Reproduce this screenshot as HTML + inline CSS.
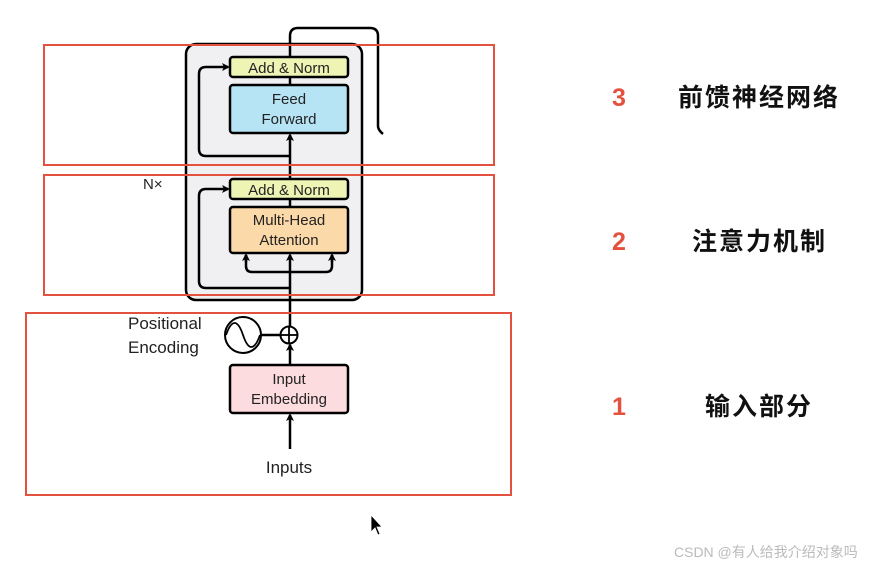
<!DOCTYPE html>
<html><head><meta charset="utf-8"><style>
html,body{margin:0;padding:0;background:#fff;}
svg{display:block;}
.t{font-family:"Liberation Sans",sans-serif;fill:#222;}
.c{font-family:"Liberation Sans","Noto Sans CJK SC",sans-serif;font-weight:bold;fill:#111;font-size:25px;}
.n{font-family:"Liberation Sans",sans-serif;font-weight:bold;fill:#e4513f;font-size:25px;}
</style></head><body>
<svg width="893" height="567" viewBox="0 0 893 567" xmlns="http://www.w3.org/2000/svg">
<defs><marker id="a" markerWidth="8" markerHeight="8" refX="6" refY="4" orient="auto" markerUnits="userSpaceOnUse"><path d="M0,0 L8,4 L0,8 L2,4z" fill="#000"/></marker></defs>
<!-- gray box -->
<rect x="186" y="44" width="176" height="256" rx="10" fill="#f0f0f2" stroke="#000" stroke-width="2.5"/>
<!-- main vertical line -->
<line x1="290" y1="449" x2="290" y2="415" stroke="#000" stroke-width="2.5" marker-end="url(#a)"/>
<line x1="290" y1="365" x2="290" y2="345" stroke="#000" stroke-width="2.5" marker-end="url(#a)"/>
<line x1="290" y1="327" x2="290" y2="255" stroke="#000" stroke-width="2.5" marker-end="url(#a)"/>
<line x1="290" y1="207" x2="290" y2="199" stroke="#000" stroke-width="2.5"/>
<line x1="290" y1="179" x2="290" y2="135" stroke="#000" stroke-width="2.5" marker-end="url(#a)"/>
<line x1="290" y1="85" x2="290" y2="77" stroke="#000" stroke-width="2.5"/>
<path d="M290,57 L290,36 Q290,28 298,28 L370,28 Q378,28 378,36 L378,126 Q378,130 383,134" fill="none" stroke="#000" stroke-width="2.5"/>
<!-- residual loops -->
<path d="M290,288 L206,288 Q199,288 199,281 L199,196 Q199,189 206,189 L228,189" fill="none" stroke="#000" stroke-width="2.5" marker-end="url(#a)"/>
<path d="M290,156 L206,156 Q199,156 199,149 L199,74 Q199,67 206,67 L228,67" fill="none" stroke="#000" stroke-width="2.5" marker-end="url(#a)"/>
<!-- MHA branches -->
<path d="M246,255 L246,266 Q246,272 252,272 L326,272 Q332,272 332,266 L332,255" fill="none" stroke="#000" stroke-width="2.5"/>
<path d="M246,262 L246,255" stroke="#000" stroke-width="2.5" marker-end="url(#a)"/>
<path d="M332,262 L332,255" stroke="#000" stroke-width="2.5" marker-end="url(#a)"/>
<!-- boxes -->
<rect x="230" y="57" width="118" height="20" rx="3" fill="#eef4b4" stroke="#000" stroke-width="2.5"/>
<text class="t" x="289" y="73" font-size="15" text-anchor="middle">Add &amp; Norm</text>
<rect x="230" y="85" width="118" height="48" rx="3" fill="#b6e4f4" stroke="#000" stroke-width="2.5"/>
<text class="t" x="289" y="104" font-size="15" text-anchor="middle">Feed</text>
<text class="t" x="289" y="124" font-size="15" text-anchor="middle">Forward</text>
<rect x="230" y="179" width="118" height="20" rx="3" fill="#eef4b4" stroke="#000" stroke-width="2.5"/>
<text class="t" x="289" y="195" font-size="15" text-anchor="middle">Add &amp; Norm</text>
<rect x="230" y="207" width="118" height="46" rx="3" fill="#fcd9a8" stroke="#000" stroke-width="2.5"/>
<text class="t" x="289" y="225" font-size="15" text-anchor="middle">Multi-Head</text>
<text class="t" x="289" y="245" font-size="15" text-anchor="middle">Attention</text>
<rect x="230" y="365" width="118" height="48" rx="3" fill="#fcdcde" stroke="#000" stroke-width="2.5"/>
<text class="t" x="289" y="384" font-size="15" text-anchor="middle">Input</text>
<text class="t" x="289" y="404" font-size="15" text-anchor="middle">Embedding</text>
<text class="t" x="289" y="473" font-size="17" text-anchor="middle">Inputs</text>
<text class="t" x="143" y="189" font-size="15">N×</text>
<!-- positional encoding -->
<circle cx="289" cy="335" r="8.5" fill="#fff" stroke="#000" stroke-width="2"/>
<line x1="281" y1="335" x2="297" y2="335" stroke="#000" stroke-width="1.8"/>
<line x1="289" y1="327" x2="289" y2="343" stroke="#000" stroke-width="1.8"/>
<line x1="261" y1="335" x2="280" y2="335" stroke="#000" stroke-width="2.5"/>
<circle cx="243" cy="335" r="18" fill="#fff" stroke="#000" stroke-width="2"/>
<path d="M226,335 C232,318 238,320 243,335 C248,350 254,352 260,335" fill="none" stroke="#000" stroke-width="1.8"/>
<text class="t" x="128" y="329" font-size="17">Positional</text>
<text class="t" x="128" y="353" font-size="17">Encoding</text>
<!-- red boxes -->
<rect x="44" y="45" width="450" height="120" fill="none" stroke="#e4513f" stroke-width="2"/>
<rect x="44" y="175" width="450" height="120" fill="none" stroke="#e4513f" stroke-width="2"/>
<rect x="26" y="313" width="485" height="182" fill="none" stroke="#e4513f" stroke-width="2"/>
<!-- labels -->
<text class="n" x="612" y="106">3</text>
<text class="c" x="678" y="106" letter-spacing="2">前馈神经网络</text>
<text class="n" x="612" y="250">2</text>
<text class="c" x="692" y="250" letter-spacing="2">注意力机制</text>
<text class="n" x="612" y="415">1</text>
<text class="c" x="705" y="415" letter-spacing="2">输入部分</text>
<!-- cursor -->
<path d="M371,515 L371,532 L375,528 L378,535 L380,534 L377,527 L382,527 Z" fill="#000" stroke="#fff" stroke-width="0.8"/>
<text x="674" y="557" font-size="14" fill="#bbb" font-family="Liberation Sans,'Noto Sans CJK SC',sans-serif">CSDN @有人给我介绍对象吗</text>
</svg>
</body></html>
